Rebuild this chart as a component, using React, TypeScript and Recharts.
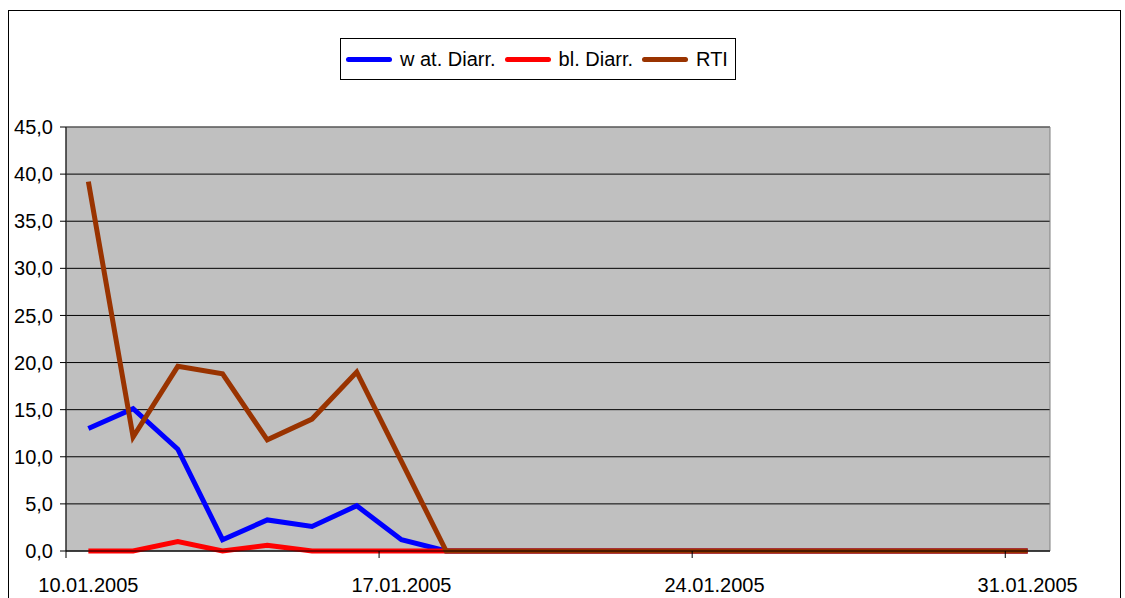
import { LineChart, Line, XAxis, YAxis, CartesianGrid, ReferenceArea } from 'recharts';

const dates = [
  '10.01.2005', '11.01.2005', '12.01.2005', '13.01.2005', '14.01.2005', '15.01.2005',
  '16.01.2005', '17.01.2005', '18.01.2005', '19.01.2005', '20.01.2005', '21.01.2005',
  '22.01.2005', '23.01.2005', '24.01.2005', '25.01.2005', '26.01.2005', '27.01.2005',
  '28.01.2005', '29.01.2005', '30.01.2005', '31.01.2005',
];
const watDiarr = [13.0, 15.1, 10.8, 1.2, 3.3, 2.6, 4.8, 1.2, 0, 0, 0, 0, 0, 0, 0, 0, 0, 0, 0, 0, 0, 0];
const blDiarr = [0, 0, 1.0, 0, 0.6, 0, 0, 0, 0, 0, 0, 0, 0, 0, 0, 0, 0, 0, 0, 0, 0, 0];
const rti = [39.2, 12.1, 19.6, 18.8, 11.8, 14.0, 19.0, 9.5, 0, 0, 0, 0, 0, 0, 0, 0, 0, 0, 0, 0, 0, 0];

const yTicks = [0, 5, 10, 15, 20, 25, 30, 35, 40, 45];
const xTicks = [0, 7, 14, 21];

const series = [
  { key: 'watDiarr', name: 'w at. Diarr.', color: '#0000FF' },
  { key: 'blDiarr', name: 'bl. Diarr.', color: '#FF0000' },
  { key: 'rti', name: 'RTI', color: '#993300' },
];

const data = dates.map((d, i) => ({
  x: i + 0.5,
  date: d,
  watDiarr: watDiarr[i],
  blDiarr: blDiarr[i],
  rti: rti[i],
}));

const W = 1125;
const H = 598;
const FONT = '"Liberation Sans", Arial, sans-serif';
const plotLeft = 66;
const plotRight = 75;
const halfBand = (W - plotLeft - plotRight) / dates.length / 2;

const XTick = (props: any) => {
  const { x, y, payload } = props;
  return (
    <g>
      <line x1={x} y1={y} x2={x} y2={y + 7} stroke="#000" />
      <text x={x + halfBand} y={y + 41} textAnchor="middle" fill="#000" fontSize={20} fontFamily={FONT}>
        {dates[payload.value]}
      </text>
    </g>
  );
};

export default function App() {
  return (
    <div style={{ position: 'absolute', left: 0, top: 0, width: W, height: H, background: '#fff', overflow: 'hidden' }}>
      <div style={{ position: 'absolute', left: 8, top: 10, width: 1111, height: 620, border: '1px solid #000' }} />
      <div style={{ position: 'absolute', left: 0, top: 0 }}>
        <LineChart width={W} height={H} data={data} margin={{ top: 127, right: plotRight, bottom: 0, left: 6 }}>
          <CartesianGrid vertical={false} stroke="#000" fill="#C0C0C0" />
          <ReferenceArea x1={0} x2={22} y1={0} y2={45} fill="none" stroke="#808080" />
          <XAxis
            dataKey="x"
            type="number"
            domain={[0, 22]}
            ticks={xTicks}
            height={47}
            tickSize={0}
            tickMargin={0}
            tick={<XTick />}
            axisLine={{ stroke: '#000' }}
            interval={0}
          />
          <YAxis
            domain={[0, 45]}
            ticks={yTicks}
            width={60}
            tickSize={6}
            tickMargin={7}
            tickLine={{ stroke: '#000' }}
            axisLine={{ stroke: '#000' }}
            tickFormatter={(v: number) => v.toFixed(1).replace('.', ',')}
            tick={{ fill: '#000', fontSize: 20, fontFamily: FONT }}
            interval={0}
          />
          {series.map((s) => (
            <Line
              key={s.key}
              type="linear"
              dataKey={s.key}
              name={s.name}
              stroke={s.color}
              strokeWidth={5}
              dot={false}
              isAnimationActive={false}
            />
          ))}
        </LineChart>
      </div>
      <div
        style={{
          position: 'absolute', left: 340, top: 38, width: 394, height: 40, border: '1px solid #000',
          background: '#fff', display: 'flex', alignItems: 'center', fontFamily: FONT, fontSize: 20, color: '#000',
        }}
      >
        {series.map((s) => (
          <div key={s.key} style={{ display: 'flex', alignItems: 'center', marginLeft: s.key === 'watDiarr' ? 5 : 9 }}>
            <div style={{ width: 46, height: 5, borderRadius: 3, background: s.color, marginRight: 8 }} />
            <span style={{ whiteSpace: 'nowrap' }}>{s.name}</span>
          </div>
        ))}
      </div>
    </div>
  );
}
